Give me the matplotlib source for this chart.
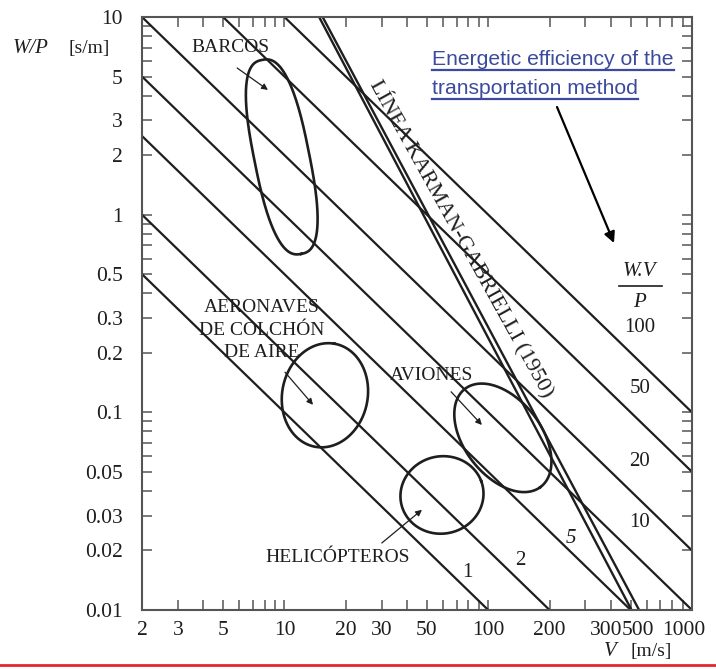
import numpy as np
import matplotlib
matplotlib.use("Agg")
import matplotlib.pyplot as plt
from matplotlib.ticker import FixedLocator, LogLocator, NullFormatter, FixedFormatter
from matplotlib.lines import Line2D
import matplotlib.transforms as mtransforms

# ---------------- data ----------------
efficiency_levels = [1, 2, 5, 10, 20, 50, 100]          # W.V/P constant lines
speed_range = [2, 1000]                                   # V [m/s]

# Karman-Gabrielli limit line (double line) end points
kg_speed_a = [14.8, 505]
kg_speed_b = [15.4, 550]
kg_wp = [10, 0.01]

# vehicle regions (centre V, centre W/P, semi-axes in decades, tilt in degrees, shape exponent)
region_names = ["BARCOS", "AERONAVES DE COLCHÓN DE AIRE", "AVIONES", "HELICÓPTEROS"]
region_v = [9.7, 15.8, 118, 59.3]
region_wp = [1.96, 0.122, 0.0743, 0.0382]
region_major = [0.50, 0.265, 0.31, 0.205]
region_minor = [0.135, 0.21, 0.19, 0.195]
region_angle = [-79, 80, -54, 20]
region_power = [2.6, 2.0, 2.0, 2.0]

x_ticks = [2, 3, 5, 10, 20, 30, 50, 100, 200, 300, 500, 1000]
x_ticklabels = ["2", "3", "5", "10", "20", "30", "50", "100", "200", "300", "500", "1000"]
y_ticks = [0.01, 0.02, 0.03, 0.05, 0.1, 0.2, 0.3, 0.5, 1, 2, 3, 5, 10]
y_ticklabels = ["0.01", "0.02", "0.03", "0.05", "0.1", "0.2", "0.3", "0.5", "1", "2", "3", "5", "10"]

# ---------------- style ----------------
SERIF = "Liberation Serif"
plt.rcParams["font.family"] = [SERIF, "DejaVu Serif"]
INK = "#1e1e1e"
SPINE = "#555555"

fig = plt.figure(figsize=(7.16, 6.69), dpi=100)
ax = fig.add_axes([142 / 716, 59 / 669, 550 / 716, 593 / 669])
ax.set_xscale("log")
ax.set_yscale("log")
ax.set_xlim(2, 1000)
ax.set_ylim(0.01, 10)

# constant W.V/P lines
v = np.array(speed_range, dtype=float)
for k in efficiency_levels:
    ax.plot(v, k / v, color=INK, lw=1.6, solid_capstyle="butt")

# Karman-Gabrielli double line
ax.plot(kg_speed_a, kg_wp, color=INK, lw=1.7)
ax.plot(kg_speed_b, kg_wp, color=INK, lw=1.7)

# regions
t = np.linspace(0, 2 * np.pi, 400)
for vc, wc, a, b, ang, p in zip(region_v, region_wp, region_major, region_minor,
                                region_angle, region_power):
    ex = a * np.sign(np.cos(t)) * np.abs(np.cos(t)) ** (2 / p)
    ey = b * np.sign(np.sin(t)) * np.abs(np.sin(t)) ** (2 / p)
    th = np.deg2rad(ang)
    lx = np.log10(vc) + ex * np.cos(th) - ey * np.sin(th)
    ly = np.log10(wc) + ex * np.sin(th) + ey * np.cos(th)
    ax.plot(10 ** lx, 10 ** ly, color=INK, lw=1.9)

# axes / ticks
for s in ax.spines.values():
    s.set_color(SPINE)
    s.set_linewidth(1.5)
ax.xaxis.set_major_locator(FixedLocator(x_ticks))
ax.xaxis.set_major_formatter(FixedFormatter(x_ticklabels))
ax.xaxis.set_minor_locator(LogLocator(base=10, subs=np.arange(1, 10)))
ax.xaxis.set_minor_formatter(NullFormatter())
ax.yaxis.set_major_locator(FixedLocator(y_ticks))
ax.yaxis.set_major_formatter(FixedFormatter(y_ticklabels))
ax.yaxis.set_minor_locator(LogLocator(base=10, subs=np.arange(1, 10)))
ax.yaxis.set_minor_formatter(NullFormatter())
for which in ("major", "minor"):
    ax.tick_params(which=which, direction="in", length=7.5, width=1.1, color=SPINE,
                   top=True, right=True, labelsize=15.5, labelcolor=INK)
ax.tick_params(axis="y", which="major", pad=14)
ax.tick_params(axis="x", which="major", pad=8)

# crowded labels on the right of the x axis are shifted as in the reference
shifts = {"300": 21, "500": 7, "1000": -8}
for tick, lab in zip(ax.xaxis.get_major_ticks(), x_ticklabels):
    if lab in shifts:
        off = mtransforms.ScaledTranslation(shifts[lab] / 100, 0, fig.dpi_scale_trans)
        tick.label1.set_transform(tick.label1.get_transform() + off)

# axis titles
fig.text(13 / 716, 1 - 53 / 669, "W/P", fontsize=15, style="italic", color=INK)
fig.text(68 / 716, 1 - 53 / 669, "[s/m]", fontsize=14, color=INK)
fig.text(604 / 716, 1 - 656 / 669, "V", fontsize=15, style="italic", color=INK)
fig.text(631 / 716, 1 - 656 / 669, "[m/s]", fontsize=14, color=INK)

# region labels with arrows
arrow_kw = dict(arrowstyle="-|>", color=INK, lw=0.9, mutation_scale=9, shrinkA=0, shrinkB=0)
ax.text(0.16, 0.948, "BARCOS", transform=ax.transAxes, ha="center", va="center",
        fontsize=14, color=INK)
ax.annotate("", xy=(0.229, 0.877), xytext=(0.173, 0.914), xycoords="axes fraction",
            arrowprops=arrow_kw)
ax.text(0.218, 0.472, "AERONAVES\nDE COLCHÓN\nDE AIRE", transform=ax.transAxes,
        ha="center", va="center", fontsize=14, color=INK, linespacing=1.45)
ax.annotate("", xy=(0.311, 0.346), xytext=(0.26, 0.401), xycoords="axes fraction",
            arrowprops=arrow_kw)
ax.text(0.527, 0.396, "AVIONES", transform=ax.transAxes, ha="center", va="center",
        fontsize=14, color=INK)
ax.annotate("", xy=(0.618, 0.312), xytext=(0.562, 0.368), xycoords="axes fraction",
            arrowprops=arrow_kw)
ax.text(0.356, 0.088, "HELICÓPTEROS", transform=ax.transAxes, ha="center", va="center",
        fontsize=14, color=INK)
ax.annotate("", xy=(0.509, 0.169), xytext=(0.436, 0.113), xycoords="axes fraction",
            arrowprops=arrow_kw)

# efficiency labels
for lab, fx, fy, st in zip(["1", "2", "5"], [0.591, 0.687, 0.78], [0.064, 0.084, 0.121],
                           ["normal", "normal", "italic"]):
    ax.text(fx, fy, lab, transform=ax.transAxes, ha="center", va="center",
            fontsize=15, color=INK, style=st)
for lab, fy in zip(["10", "20", "50", "100"], [0.147, 0.25, 0.374, 0.477]):
    ax.text(0.905, fy, lab, transform=ax.transAxes, ha="center", va="center",
            fontsize=15, color=INK)
# W.V / P fraction
ax.text(0.905, 0.571, "W.V", transform=ax.transAxes, ha="center", va="center",
        fontsize=15, style="italic", color=INK)
ax.text(0.905, 0.519, "P", transform=ax.transAxes, ha="center", va="center",
        fontsize=15, style="italic", color=INK)
ax.add_line(Line2D([0.868, 0.945], [0.546, 0.546], transform=ax.transAxes,
                   color=INK, lw=1.2))

# Karman-Gabrielli label
ax.text(0.582, 0.627, "LÍNEA KARMAN-GABRIELLI (1950)", transform=ax.transAxes,
        ha="center", va="center", rotation=-61, rotation_mode="anchor",
        fontsize=16, color=INK)

# blue annotation
BLUE = "#3b4a9c"
narrow = ["Liberation Sans Narrow", "Liberation Sans", "DejaVu Sans"]
t1 = fig.text(432 / 716, 1 - 65 / 669, "Energetic efficiency of the", fontsize=15.2,
              family=narrow, color=BLUE)
t2 = fig.text(432 / 716, 1 - 94 / 669, "transportation method", fontsize=15.2,
              family=narrow, color=BLUE)
fig.canvas.draw()
r = fig.canvas.get_renderer()
for tt, uy in ((t1, 69.5), (t2, 99)):
    bb = tt.get_window_extent(r)
    x0 = bb.x0 / fig.bbox.width
    x1 = bb.x1 / fig.bbox.width
    fig.add_artist(Line2D([x0, x1], [1 - uy / 669] * 2, transform=fig.transFigure,
                          color=BLUE, lw=1.6))
fig.add_artist(matplotlib.patches.FancyArrowPatch(
    (557 / 716, 1 - 107 / 669), (614 / 716, 1 - 243 / 669), transform=fig.transFigure,
    arrowstyle="-|>", mutation_scale=16, color="black", lw=1.6, shrinkA=0, shrinkB=0))

# red rule at the bottom
fig.add_artist(Line2D([0, 1], [1 - 664.5 / 669] * 2, transform=fig.transFigure,
                      color="#e8262a", lw=2))

fig.savefig("out.png", dpi=100)
